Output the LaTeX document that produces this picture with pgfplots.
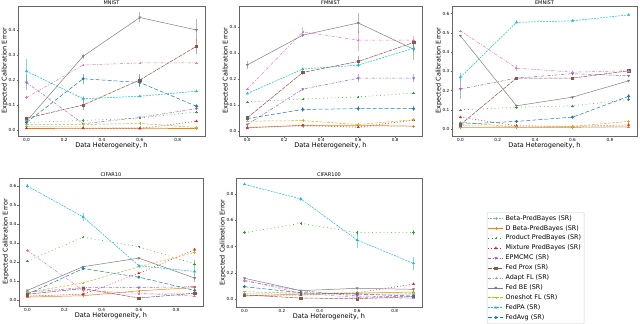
\documentclass[border=0pt]{standalone}
\usepackage{fontspec}
\setmainfont{DejaVu Sans}
\usepackage{pgfplots}
\pgfplotsset{compat=1.18}

\definecolor{cBlue}{HTML}{1F77B4}
\definecolor{cBeta}{HTML}{7FB0DC}
\definecolor{cOrange}{HTML}{FF7F0E}
\definecolor{cGreen}{HTML}{2CA02C}
\definecolor{cRed}{HTML}{D62728}
\definecolor{cPurple}{HTML}{9467BD}
\definecolor{cBrown}{HTML}{8C564B}
\definecolor{cPink}{HTML}{E377C2}
\definecolor{cGray}{HTML}{7F7F7F}
\definecolor{cOlive}{HTML}{BCBD22}
\definecolor{cCyan}{HTML}{17BECF}

\pgfplotsset{
  sBeta/.style={color=cBeta, densely dotted, mark=+, mark options={solid}},
  sDBeta/.style={color=cOrange, solid, mark=+, mark options={solid}},
  sProd/.style={color=cGreen, dash pattern=on 0.8pt off 3pt, mark=+, mark options={solid}},
  sMix/.style={color=cRed, dash pattern=on 1pt off 2pt, mark=triangle*, mark options={solid}},
  sEP/.style={color=cPurple, dash pattern=on 3pt off 1.5pt on 0.8pt off 1.5pt, mark=triangle*, mark options={solid, rotate=180}},
  sProx/.style={color=cBrown, dash pattern=on 4pt off 1pt, mark=square*, mark options={solid}},
  sAdapt/.style={color=cPink, dash pattern=on 3pt off 1.5pt on 0.8pt off 1.5pt, mark=+, mark options={solid}},
  sBE/.style={color=cGray, solid, mark=triangle*, mark options={solid, rotate=180}},
  sOne/.style={color=cOlive, dash pattern=on 2.5pt off 1.5pt, mark=+, mark options={solid}},
  sPA/.style={color=cCyan, dash pattern=on 2pt off 1pt, mark=triangle*, mark options={solid}},
  sAvg/.style={color=cBlue, dash pattern=on 4pt off 2pt, mark=*, mark options={solid}},
  panel/.style={
    scale only axis, anchor=north west,
    xmin=-0.045, xmax=0.945,
    xtick={0,0.2,0.4,0.6,0.8},
    tick pos=left, tick align=outside, major tick length=1.5pt,
    axis line style={black!60}, every tick/.style={black!60},
    tick label style={font=\fontsize{4.2}{5}\selectfont, inner sep=1pt},
    /pgf/number format/assume math mode=true,
    xticklabel style={/pgf/number format/.cd, fixed, fixed zerofill, precision=1},
    yticklabel style={/pgf/number format/.cd, fixed, fixed zerofill, precision=1},
    label style={font=\fontsize{6.5}{7}\selectfont, inner sep=0.5pt},
    ylabel shift=-1pt, xlabel shift=-1pt,
    every axis title shift=0pt,
    title style={font=\fontsize{5}{6}\selectfont, inner sep=1pt},
    xlabel={Data Heterogeneity, h},
    ylabel={Expected Calibration Error},
    every axis plot/.append style={line width=0.5pt, mark size=1.2pt,
      /pgfplots/error bars/y dir=both,
      /pgfplots/error bars/y explicit,
      /pgfplots/error bars/error mark=none,
      /pgfplots/error bars/error bar style={solid, line width=0.7pt, opacity=0.55}},
  },
}

\begin{document}
\begin{tikzpicture}
\useasboundingbox (0,0) rectangle (640pt,324pt);

% MNIST
\begin{axis}[panel, at={(18pt,318pt)}, width=187pt, height=130pt,
  ymin=-0.024, ymax=0.496, ytick={0,0.1,0.2,0.3,0.4}, title={MNIST}]
\addplot[sBeta] coordinates {(0,0.015) (0.3,0.012) (0.6,0.010) (0.9,0.006)};
\addplot[sDBeta] coordinates {(0,0.008) (0.3,0.008) (0.6,0.008) (0.9,0.008)};
\addplot[sProd] coordinates {(0,0.030) (0.3,0.038) (0.6,0.048) (0.9,0.072)};
\addplot[sMix] coordinates {(0,0.007) (0.3,0.007) (0.6,0.006) (0.9,0.035)};
\addplot[sEP] coordinates {(0,0.19) +- (0,0.03) (0.3,0.025) (0.6,0.05) (0.9,0.085)};
\addplot[sProx] coordinates {(0,0.047) (0.3,0.10) +- (0,0.02) (0.6,0.20) +- (0,0.025) (0.9,0.335) +- (0,0.03)};
\addplot[sAdapt] coordinates {(0,0.13) (0.3,0.26) (0.6,0.268) (0.9,0.268)};
\addplot[sBE] coordinates {(0,0.035) (0.3,0.295) +- (0,0.01) (0.6,0.45) +- (0,0.02) (0.9,0.40) +- (0,0.045)};
\addplot[sOne] coordinates {(0,0.022) (0.3,0.022) (0.6,0.026) (0.9,0.010)};
\addplot[sPA] coordinates {(0,0.235) +- (0,0.05) (0.3,0.125) +- (0,0.01) (0.6,0.135) (0.9,0.155)};
\addplot[sAvg] coordinates {(0,0.03) (0.3,0.205) +- (0,0.02) (0.6,0.19) +- (0,0.02) (0.9,0.095) +- (0,0.01)};
\end{axis}

% FMNIST
\begin{axis}[panel, at={(239pt,318pt)}, width=183pt, height=130pt,
  ymin=-0.019, ymax=0.48, ytick={0,0.1,0.2,0.3,0.4}, title={FMNIST}]
\addplot[sBeta] coordinates {(0,0.015) (0.3,0.018) (0.6,0.015) (0.9,0.018)};
\addplot[sDBeta] coordinates {(0,0.013) (0.3,0.022) (0.6,0.022) (0.9,0.019)};
\addplot[sProd] coordinates {(0,0.112) (0.3,0.123) (0.6,0.131) (0.9,0.146)};
\addplot[sMix] coordinates {(0,0.012) (0.3,0.022) (0.6,0.015) (0.9,0.042)};
\addplot[sEP] coordinates {(0,0.025) (0.3,0.161) (0.6,0.203) +- (0,0.015) (0.9,0.203) +- (0,0.015)};
\addplot[sProx] coordinates {(0,0.051) (0.3,0.225) +- (0,0.01) (0.6,0.267) +- (0,0.02) (0.9,0.34) +- (0,0.015)};
\addplot[sAdapt] coordinates {(0,0.161) (0.3,0.381) +- (0,0.02) (0.6,0.349) +- (0,0.04) (0.9,0.349) +- (0,0.015)};
\addplot[sBE] coordinates {(0,0.254) +- (0,0.015) (0.3,0.368) (0.6,0.415) +- (0,0.04) (0.9,0.314) +- (0,0.04)};
\addplot[sOne] coordinates {(0,0.038) (0.3,0.040) (0.6,0.025) (0.9,0.044)};
\addplot[sPA] coordinates {(0,0.144) (0.3,0.238) (0.6,0.253) (0.9,0.318) +- (0,0.015)};
\addplot[sAvg] coordinates {(0,0.048) (0.3,0.083) +- (0,0.01) (0.6,0.086) +- (0,0.01) (0.9,0.086) +- (0,0.01)};
\end{axis}

% EMNIST
\begin{axis}[panel, at={(452pt,318pt)}, width=185pt, height=130pt,
  ymin=-0.036, ymax=0.64, ytick={0,0.1,0.2,0.3,0.4,0.5,0.6}, title={EMNIST}]
\addplot[sBeta] coordinates {(0,0.020) (0.3,0.012) (0.6,0.012) (0.9,0.010)};
\addplot[sDBeta] coordinates {(0,0.009) (0.3,0.009) (0.6,0.009) (0.9,0.012)};
\addplot[sProd] coordinates {(0,0.100) (0.3,0.113) (0.6,0.121) (0.9,0.153)};
\addplot[sMix] coordinates {(0,0.062) (0.3,0.017) (0.6,0.014) (0.9,0.022)};
\addplot[sEP] coordinates {(0,0.208) +- (0,0.05) (0.3,0.265) (0.6,0.288) (0.9,0.277)};
\addplot[sProx] coordinates {(0,0.023) (0.3,0.265) (0.6,0.265) (0.9,0.303) +- (0,0.01)};
\addplot[sAdapt] coordinates {(0,0.511) (0.3,0.317) +- (0,0.015) (0.6,0.296) (0.9,0.303)};
\addplot[sBE] coordinates {(0,0.485) (0.3,0.121) (0.6,0.166) (0.9,0.251)};
\addplot[sOne] coordinates {(0,0.036) (0.3,0.010) (0.6,0.014) (0.9,0.040)};
\addplot[sPA] coordinates {(0,0.27) +- (0,0.02) (0.3,0.555) +- (0,0.01) (0.6,0.563) (0.9,0.594)};
\addplot[sAvg] coordinates {(0,0.025) (0.3,0.040) (0.6,0.062) (0.9,0.170) +- (0,0.01)};
\end{axis}

% CIFAR10
\begin{axis}[panel, at={(19pt,146pt)}, width=184pt, height=128pt,
  ymin=-0.032, ymax=0.642, ytick={0,0.1,0.2,0.3,0.4,0.5,0.6}, title={CIFAR10}]
\addplot[sBeta] coordinates {(0,0.020) (0.3,0.030) (0.6,0.030) (0.9,0.035)};
\addplot[sDBeta] coordinates {(0,0.015) (0.3,0.022) (0.6,0.048) (0.9,0.065)};
\addplot[sProd] coordinates {(0,0.205) (0.3,0.33) (0.6,0.28) (0.9,0.19) +- (0,0.02)};
\addplot[sMix] coordinates {(0,0.02) (0.3,0.03) (0.6,0.14) (0.9,0.265) +- (0,0.01)};
\addplot[sEP] coordinates {(0,0.04) (0.3,0.065) (0.6,0.065) (0.9,0.07)};
\addplot[sProx] coordinates {(0,0.03) (0.3,0.06) (0.6,0.01) (0.9,0.035)};
\addplot[sAdapt] coordinates {(0,0.26) (0.3,0.05) (0.6,0.035) (0.9,0.02)};
\addplot[sBE] coordinates {(0,0.05) (0.3,0.175) (0.6,0.22) (0.9,0.115) +- (0,0.02)};
\addplot[sOne] coordinates {(0,0.04) (0.3,0.09) (0.6,0.175) (0.9,0.25)};
\addplot[sPA] coordinates {(0,0.60) +- (0,0.01) (0.3,0.437) +- (0,0.02) (0.6,0.18) (0.9,0.15) +- (0,0.02)};
\addplot[sAvg] coordinates {(0,0.03) (0.3,0.165) (0.6,0.12) (0.9,0.05)};
\end{axis}

% CIFAR100 (carries the legend)
\begin{axis}[panel, at={(236pt,146pt)}, width=186pt, height=129pt,
  ymin=-0.058, ymax=0.921, ytick={0,0.2,0.4,0.6,0.8}, title={CIFAR100},
  legend style={at={(1.349,0.736)}, anchor=north west,
    font=\fontsize{6.4}{7}\selectfont, draw=black!20, rounded corners=1pt,
    inner sep=1pt, row sep=-0.45pt, cells={anchor=west}},
  legend image code/.code={\draw[mark repeat=2, mark phase=2]
    plot coordinates {(0pt,0pt) (7.5pt,0pt) (15pt,0pt)};}]
\addplot[sBeta] coordinates {(0,0.045) (0.3,0.040) (0.6,0.040) (0.9,0.035)};
\addlegendentry{Beta-PredBayes (SR)}
\addplot[sDBeta] coordinates {(0,0.025) (0.3,0.040) (0.6,0.046) (0.9,0.056)};
\addlegendentry{D Beta-PredBayes (SR)}
\addplot[sProd] coordinates {(0,0.506) (0.3,0.577) (0.6,0.506) +- (0,0.015) (0.9,0.506) +- (0,0.02)};
\addlegendentry{Product PredBayes (SR)}
\addplot[sMix] coordinates {(0,0.033) (0.3,0.033) (0.6,0.050) (0.9,0.116)};
\addlegendentry{Mixture PredBayes (SR)}
\addplot[sEP] coordinates {(0,0.14) (0.3,0.066) (0.6,0.025) (0.9,0.020)};
\addlegendentry{EPMCMC (SR)}
\addplot[sProx] coordinates {(0,0.033) (0.3,0.010) (0.6,0.005) (0.9,0.020)};
\addlegendentry{Fed Prox (SR)}
\addplot[sAdapt] coordinates {(0,0.147) (0.3,0.046) (0.6,0.015) (0.9,0.008)};
\addlegendentry{Adapt FL (SR)}
\addplot[sBE] coordinates {(0,0.16) (0.3,0.066) (0.6,0.084) (0.9,0.076)};
\addlegendentry{Fed BE (SR)}
\addplot[sOne] coordinates {(0,0.058) (0.3,0.046) (0.6,0.050) (0.9,0.046)};
\addlegendentry{Oneshot FL (SR)}
\addplot[sPA] coordinates {(0,0.873) (0.3,0.762) +- (0,0.015) (0.6,0.45) +- (0,0.06) (0.9,0.273) +- (0,0.05)};
\addlegendentry{FedPA (SR)}
\addplot[sAvg] coordinates {(0,0.096) (0.3,0.050) (0.6,0.040) (0.9,0.025)};
\addlegendentry{FedAvg (SR)}
\end{axis}
\end{tikzpicture}
\end{document}
